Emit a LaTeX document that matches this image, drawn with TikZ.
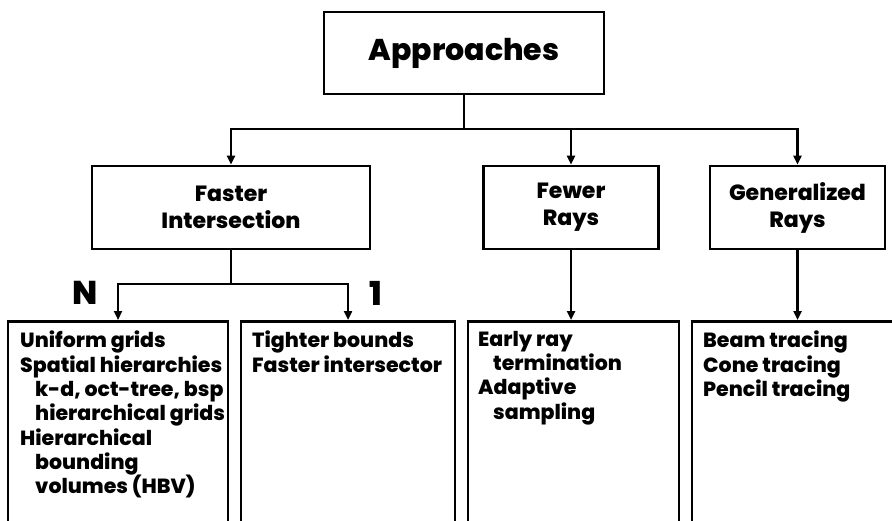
\documentclass[tikz,border=0pt]{standalone}
\usepackage{fontspec}
\setmainfont{Poppins}[BoldFont={Poppins ExtraBold}]
\usetikzlibrary{arrows.meta,positioning}
\definecolor{ink}{HTML}{000000}
\tikzset{
  base/.style={draw=ink,line width=2.6pt,fill=white,align=center,inner sep=0pt},
  head/.style={base,font=\fontsize{30}{36}\selectfont\bfseries,minimum width=280pt,minimum height=82pt},
  branch/.style={base,font=\fontsize{22}{27}\selectfont\bfseries,minimum height=83pt},
  leaf/.style={base,minimum height=240pt,anchor=north},
  item/.style={font=\fontsize{20.5}{24.3}\selectfont\bfseries,align=left,anchor=north west,inner sep=0pt},
  count/.style={font=\fontsize{33}{34}\selectfont\bfseries,inner sep=0pt},
  flow/.style={-{Triangle[length=9pt,width=8pt]},line width=2.6pt,draw=ink},
  tie/.style={line width=2.6pt,draw=ink}
}
\newcommand{\sub}{\hspace*{15pt}}

\begin{document}
\begin{tikzpicture}[x=1pt,y=-1pt]
\useasboundingbox (0,0) rectangle (892,520);
\clip (0,0) rectangle (892,520);
% top level
\node[head] (approaches) at (464,53) {Approaches};
\node[branch,minimum width=278pt] (faster) at (231,207.5) {Faster\\Intersection};
\node[branch,minimum width=175pt] (fewer) at (571,207.5) {Fewer\\Rays};
\node[branch,minimum width=175pt] (general) at (797.5,207.5) {Generalized\\Rays};

% leaves (run off the bottom edge)
\node[leaf,minimum width=220pt] (grids) at (118,320) {};
\node[leaf,minimum width=214pt] (bounds) at (348,320) {};
\node[leaf,minimum width=211pt] (early) at (573.5,320) {};
\node[leaf,minimum width=213pt] (beam) at (798.5,320) {};

\node[item] (gridstext) at (20,331) {Uniform grids\\Spatial hierarchies\\\sub k-d, oct-tree, bsp\\\sub hierarchical grids\\Hierarchical\\\sub bounding\\\sub volumes (HBV)};
\node[item] (boundstext) at (252,331) {Tighter bounds\\Faster intersector};
\node[item] (earlytext) at (478,331) {Early ray\\\sub termination\\Adaptive\\\sub sampling};
\node[item] (beamtext) at (703,331) {Beam tracing\\Cone tracing\\Pencil tracing};

\node[count,anchor=east] (many) at (98,293) {N};
\node[count] (one) at (376,293) {1};

% connectors
\coordinate (hub) at (approaches.south |- 0,129);
\draw[tie] (approaches.south) -- (hub);
\draw[flow] (hub) -| (faster.north);
\draw[flow] (hub) -| (fewer.north);
\draw[flow] (hub) -| (general.north);
\coordinate (split) at (faster.south |- 0,284);
\draw[tie] (faster.south) -- (split);
\draw[flow] (split) -| (grids.north);
\draw[flow] (split) -| (bounds.north);
\draw[flow] (fewer.south) -- (fewer.south |- early.north);
\draw[flow] (general.south) -- (general.south |- beam.north);
\end{tikzpicture}
\end{document}
